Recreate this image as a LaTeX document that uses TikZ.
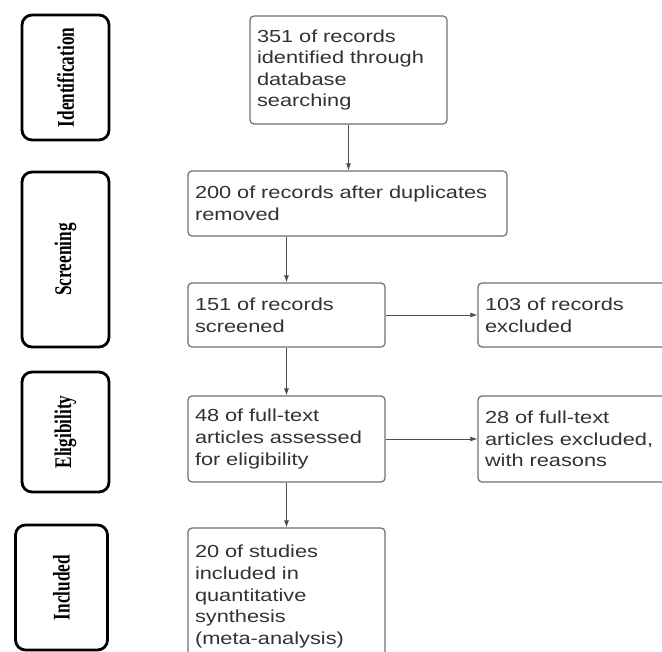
\documentclass[tikz,border=0pt]{standalone}
\usepackage{fontspec}
\newfontfamily\recfont[FakeStretch=1.25]{Liberation Sans}
\newfontfamily\phasefont[FakeStretch=0.72]{Liberation Serif}
\usetikzlibrary{arrows.meta, positioning}
\definecolor{boxgray}{RGB}{110,110,110}
\definecolor{textgray}{RGB}{50,50,50}

\begin{document}
\begin{tikzpicture}[
  x=1bp, y=-1bp,
  recbox/.style = {rectangle, rounded corners=4bp, draw=boxgray, line width=1.2bp,
                   align=left, inner xsep=7bp, inner ysep=0pt, text=textgray,
                   font=\recfont\fontsize{17.5}{21.7}\selectfont},
  phasebox/.style = {rectangle, rounded corners=10bp, draw=black, line width=2.8bp,
                     rotate=90, minimum width=125bp, minimum height=87bp, inner sep=0pt,
                     font=\phasefont\bfseries\fontsize{24}{26}\selectfont},
  arr/.style = {-{Latex[length=7bp, width=5bp]}, line width=0.9bp, black!70}
]
\useasboundingbox (0,0) rectangle (662,652);
\clip (0,0) rectangle (662,652);
% phases
\node[phasebox] (ident) at (65.5,77.5) {Identification};
\node[phasebox, minimum width=175bp] (screen) at (65.5,259.5) {Screening};
\node[phasebox, minimum width=120bp] (elig) at (65.5,432) {Eligibility};
\node[phasebox, minimum height=92bp] (incl) at (61.5,587.5) {Included};
% records
\node[recbox, text width=183bp, minimum height=108bp] (rec1) at (348.5,70) {351 of records\\identified through\\database\\searching};
\node[recbox, text width=305bp, minimum height=65bp] (rec2) at (347.5,203.5) {200 of records after duplicates\\removed};
\node[recbox, text width=183bp, minimum height=64bp] (rec3) at (286.5,315) {151 of records\\screened};
\node[recbox, text width=188bp, minimum height=64bp] (exc1) at (579,315) {103 of records\\excluded};
\node[recbox, text width=183bp, minimum height=86bp] (rec4) at (286.5,439) {48 of full-text\\articles assessed\\for eligibility};
\node[recbox, text width=188bp, minimum height=86bp] (exc2) at (579,439) {28 of full-text\\articles excluded,\\with reasons};
\node[recbox, text width=183bp, minimum height=137bp] (rec5) at (286.5,596.5) {20 of studies\\included in\\quantitative\\synthesis\\(meta-analysis)};
% arrows
\draw[arr] (rec1.south) -- (rec1.south |- rec2.north);
\draw[arr] (rec3.north |- rec2.south) -- (rec3.north);
\draw[arr] (rec3) -- (exc1);
\draw[arr] (rec3) -- (rec4);
\draw[arr] (rec4) -- (exc2);
\draw[arr] (rec4) -- (rec5);
\end{tikzpicture}
\end{document}
